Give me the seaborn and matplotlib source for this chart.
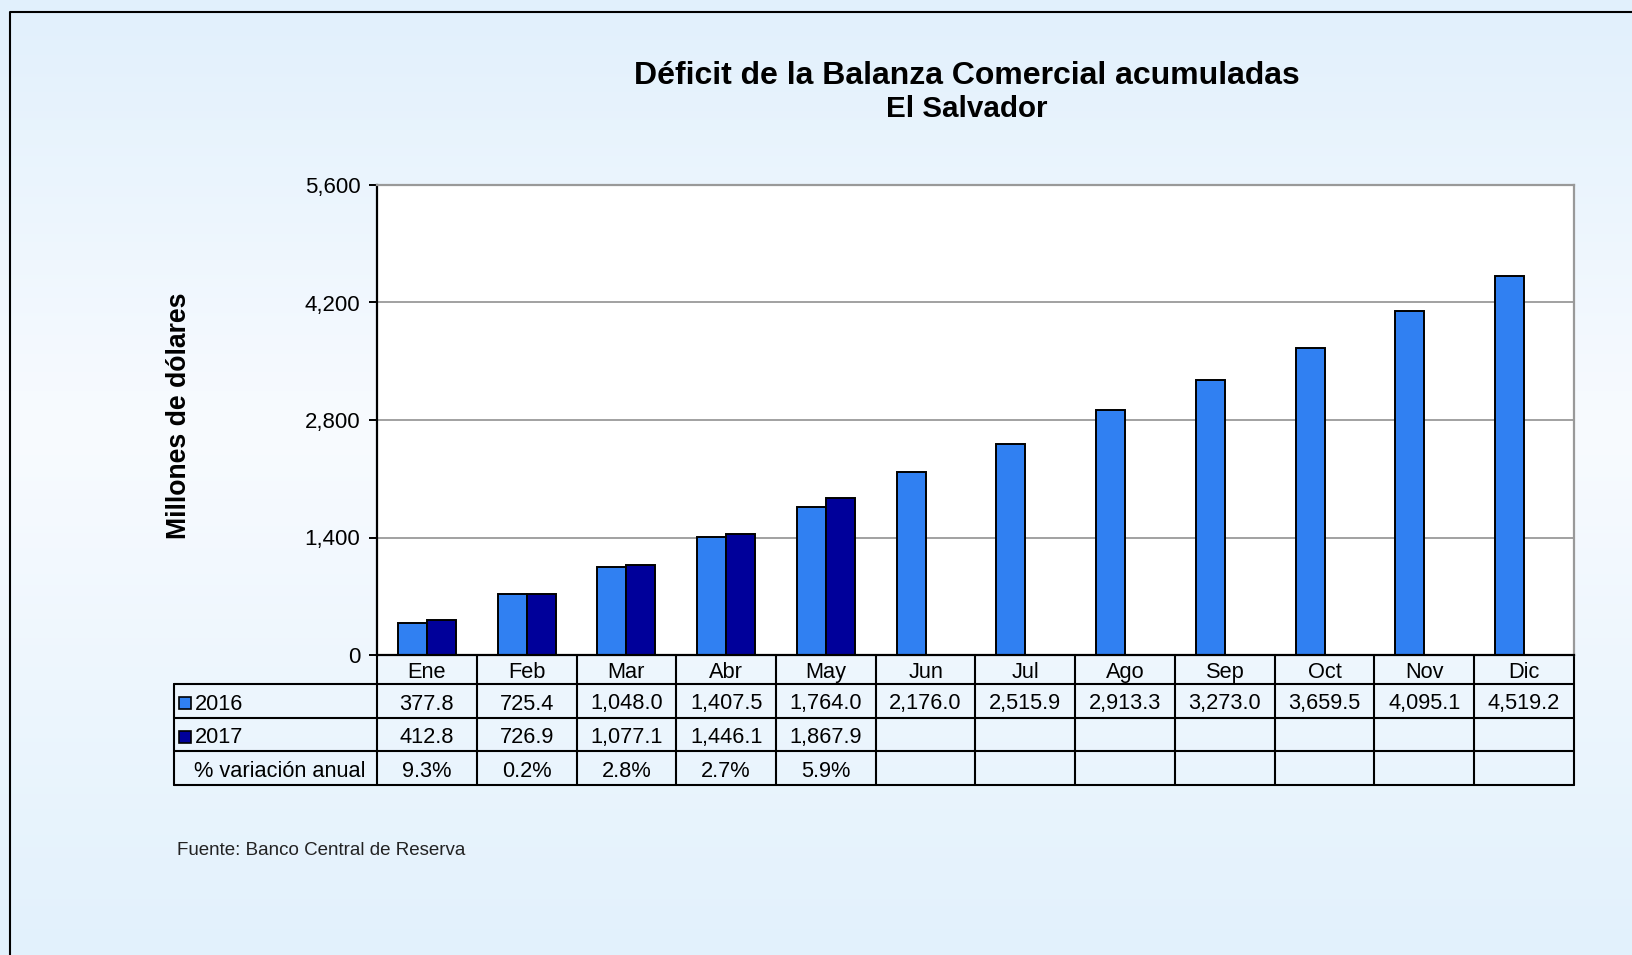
import numpy as np
import pandas as pd
import seaborn as sns
import matplotlib.pyplot as plt
from matplotlib.patches import Rectangle
from matplotlib.lines import Line2D
from matplotlib.colors import LinearSegmentedColormap
from matplotlib.transforms import blended_transform_factory
from matplotlib.ticker import FuncFormatter

# Datos (millones de dólares, acumulados)
meses = ["Ene", "Feb", "Mar", "Abr", "May", "Jun", "Jul", "Ago", "Sep", "Oct", "Nov", "Dic"]
v2016 = [377.8, 725.4, 1048.0, 1407.5, 1764.0, 2176.0, 2515.9, 2913.3, 3273.0, 3659.5, 4095.1, 4519.2]
v2017 = [412.8, 726.9, 1077.1, 1446.1, 1867.9]
variacion = ["9.3%", "0.2%", "2.8%", "2.7%", "5.9%"]
anios = ["2016", "2017"]
colores = ["#3080F2", "#00009A"]
yticks = [0, 1400, 2800, 4200, 5600]

sns.set_theme(style="white")
plt.rcParams['font.family'] = ['Liberation Sans', 'DejaVu Sans']

v2017_full = v2017 + [np.nan] * (len(meses) - len(v2017))
df = pd.DataFrame({
    "mes": meses * 2,
    "anio": [anios[0]] * len(meses) + [anios[1]] * len(meses),
    "valor": v2016 + v2017_full,
})

W, H = 1632, 955
fig = plt.figure(figsize=(W / 100, H / 100), dpi=100)

# fondo degradado
bg = fig.add_axes([0, 0, 1, 1], zorder=-10)
cmap = LinearSegmentedColormap.from_list(
    "fondo", [(0.0, (225/255, 240/255, 252/255)), (0.45, (248/255, 251/255, 255/255)),
              (1.0, (226/255, 241/255, 252/255))])
bg.imshow(np.linspace(0, 1, 256).reshape(-1, 1), aspect="auto", cmap=cmap,
          extent=[0, 1, 0, 1], origin="upper")
bg.axis("off")

# marco
fig.add_artist(Line2D([10 / W, 10 / W, 1], [0, 1 - 12 / H, 1 - 12 / H],
                      color="black", lw=1.5, transform=fig.transFigure))

ax = fig.add_axes([377 / W, 1 - 655 / H, 1197 / W, 470 / H])
ax.set_facecolor("white")

sns.barplot(data=df, x="mes", y="valor", hue="anio", order=meses, hue_order=anios,
            palette=colores, saturation=1, width=0.58, edgecolor="black", linewidth=1.4,
            errorbar=None, legend=False, ax=ax)

ax.set_xlim(-0.5, len(meses) - 0.5)
ax.set_ylim(0, 5600)
ax.set_yticks(yticks)
ax.yaxis.set_major_formatter(FuncFormatter(lambda v, p: f"{v:,.0f}"))
ax.set_xlabel("")
ax.set_ylabel("")
ax.tick_params(axis="x", bottom=False, labelbottom=False)
ax.tick_params(axis="y", left=True, direction="out", length=6, width=1.4,
               color="black", labelsize=16, pad=6, labelcolor="black")
ax.yaxis.grid(True, color="#9a9a9a", lw=1.3)
ax.set_axisbelow(True)
for s in ["left", "bottom"]:
    ax.spines[s].set_color("black")
    ax.spines[s].set_linewidth(1.6)
for s in ["top", "right"]:
    ax.spines[s].set_color("#999999")
    ax.spines[s].set_linewidth(1.6)

# tabla de datos bajo el eje
tr = blended_transform_factory(ax.transData, ax.transAxes)
ppx = 1197 / len(meses)  # pixeles por categoria
filas = [0, -29 / 470, -63 / 470, -96 / 470, -130 / 470]
xl = -0.5 - 203 / ppx
xr = len(meses) - 0.5
kw = dict(color="black", lw=1.5, transform=tr, clip_on=False)
for y in filas[1:]:
    ax.add_line(Line2D([xl, xr], [y, y], **kw))
for i in range(len(meses) + 1):
    x = -0.5 + i
    ax.add_line(Line2D([x, x], [0, filas[-1]], **kw))
ax.add_line(Line2D([xl, xl], [filas[1], filas[-1]], **kw))

def centro(k):
    return (filas[k] + filas[k + 1]) / 2 - 3 / 470

tk = dict(transform=tr, ha="center", va="center", fontsize=15.7, color="black", clip_on=False)
for i, m in enumerate(meses):
    ax.text(i, centro(0), m, **tk)
    ax.text(i, centro(1), f"{v2016[i]:,.1f}", **tk)
for i, v in enumerate(v2017):
    ax.text(i, centro(2), f"{v:,.1f}", **tk)
for i, t in enumerate(variacion):
    ax.text(i, centro(3), t, **tk)

# etiquetas de fila con marcador de leyenda
for k, (a, c) in enumerate(zip(anios, colores)):
    yc = centro(k + 1) + 1 / 470
    ax.add_patch(Rectangle((-0.5 + (179 - 377) / ppx, yc - 6 / 470), 12 / ppx, 12 / 470,
                           facecolor=c, edgecolor="black", lw=1.2, transform=tr, clip_on=False))
    ax.text(-0.5 + (195 - 377) / ppx, yc - 1 / 470, a, transform=tr, ha="left", va="center",
            fontsize=15.7, color="black", clip_on=False)
ax.text((xl - 0.5) / 2 + 0.04, centro(3), "% variación anual", transform=tr, ha="center",
        va="center", fontsize=15.7, color="black", clip_on=False)

# textos
fig.text(967 / W, 1 - 76 / H, "Déficit de la Balanza Comercial acumuladas", ha="center",
         va="center", fontsize=23, fontweight="bold", color="black")
fig.text(967 / W, 1 - 109 / H, "El Salvador", ha="center", va="center", fontsize=21.3,
         fontweight="bold", color="black")
fig.text(179 / W, 1 - 416 / H, "Millones de dólares", rotation=90, ha="center", va="center",
         fontsize=19.2, fontweight="bold", color="black")
fig.text(177 / W, 1 - 850 / H, "Fuente: Banco Central de Reserva", ha="left", va="center",
         fontsize=13.5, color="#222222")

fig.savefig("out.png", dpi=100)
